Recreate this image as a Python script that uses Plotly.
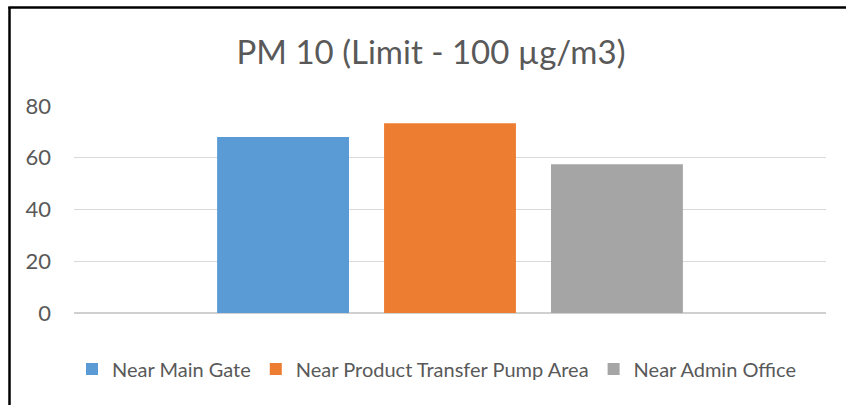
import plotly.graph_objects as go

series_names = ["Near Main Gate", "Near Product Transfer Pump Area", "Near Admin Office"]
series_values = [68, 73.3, 57.5]
series_colors = ["#5B9BD5", "#ED7D31", "#A5A5A5"]
category = ["PM 10"]
y_ticks = [0, 20, 40, 60, 80]

W, H = 846, 405
L, R, T, B = 74, 20, 106, 92
pw, ph = W - L - R, H - T - B

def px_x(x):
    return (x - L) / pw

def px_y(y):
    return (H - B - y) / ph

fig = go.Figure()
for name, val, col in zip(series_names, series_values, series_colors):
    fig.add_trace(go.Bar(x=category, y=[val], name=name, marker=dict(color=col, line=dict(width=0))))

FONT = "Lato, 'Open Sans', sans-serif"
fig.update_layout(
    width=W, height=H,
    margin=dict(l=L, r=R, t=T, b=B, autoexpand=False),
    paper_bgcolor="white", plot_bgcolor="white",
    barmode="group", bargap=0.334, bargroupgap=0.21,
    title=dict(text="PM 10 (Limit - 100 µg/m3)", x=px_x(431), xref="paper", xanchor="center",
               y=1 - 52 / H, yanchor="middle",
               font=dict(family=FONT, size=33, color="#595959")),
    font=dict(family=FONT, color="#595959"),
    xaxis=dict(showticklabels=False, showgrid=False, zeroline=False, showline=False, ticks=""),
    yaxis=dict(range=[0, 80], tickvals=y_ticks, showgrid=True, gridcolor="#D9D9D9", gridwidth=1,
               zeroline=True, zerolinecolor="#D0D0D0", zerolinewidth=1.5, showline=False,
               tickfont=dict(family=FONT, size=22, color="#595959"), ticks="", ticklen=0,
               ticklabelstandoff=22),
    legend=dict(orientation="h", x=px_x(437), xanchor="center", y=px_y(369), yanchor="middle",
                font=dict(family=FONT, size=20, color="#595959"), itemwidth=30,
                traceorder="normal", bgcolor="rgba(0,0,0,0)"),
    shapes=[
        dict(type="line", xref="paper", yref="paper", x0=px_x(9.5), x1=px_x(9.5), y0=px_y(7), y1=px_y(410),
             line=dict(color="black", width=2.5)),
        dict(type="line", xref="paper", yref="paper", x0=px_x(8.3), x1=px_x(846), y0=px_y(7.5), y1=px_y(7.5),
             line=dict(color="black", width=2.5)),
    ],
)

fig.write_html("out.html", config={"displayModeBar": False},
               post_script="document.body.style.margin='0';document.body.style.overflow='hidden';")
